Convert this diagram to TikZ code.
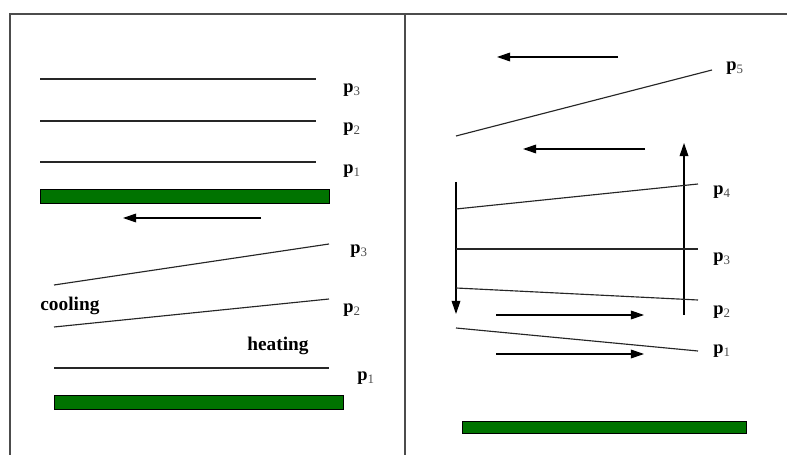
\documentclass[tikz,border=0pt]{standalone}
\usepackage{fontspec}
\setmainfont{Liberation Serif}
\usetikzlibrary{arrows.meta}
\definecolor{filmgreen}{RGB}{0,115,0}
\tikzset{
  layer/.style={draw=black!85,line width=0.65pt},
  film/.style={draw=black,fill=filmgreen,line width=0.5pt},
  flow/.style={-{Triangle[length=7.5pt,width=5pt]},line width=0.65pt},
  plabel/.style={anchor=base west,inner sep=0pt,font=\fontsize{10.5}{12}\selectfont\bfseries},
  note/.style={anchor=base west,inner sep=0pt,font=\fontsize{11}{13}\selectfont\bfseries}
}
\newcommand{\psub}[1]{p\textsubscript{\mdseries\color{black!70}#1}}
\begin{document}
\begin{tikzpicture}[x=0.02cm,y=-0.02cm]
   \useasboundingbox (0,0) rectangle (787,455);
   % frame
   \draw[line width=0.6pt,black!70] (10,455) -- (10,14) -- (787,14);
   \draw[line width=0.6pt,black!70] (405,14) -- (405,455);
   % left panel, before
   \draw[layer] (40,79) -- (316,79);
   \draw[layer] (40,121) -- (316,121);
   \draw[layer] (40,162) -- (316,162);
   \node[plabel] (lathree) at (343,93) {\psub{3}};
   \node[plabel] (latwo) at (343,132) {\psub{2}};
   \node[plabel] (laone) at (343,174) {\psub{1}};
   \filldraw[film] (40,189) rectangle (329,203);
   \draw[flow] (261,218) -- (123,218);
   % left panel, after
   \draw[layer] (54,285) -- (329,244);
   \draw[layer] (54,327) -- (329,299);
   \draw[layer] (54,368) -- (329,368);
   \node[plabel] (lbthree) at (350,254) {\psub{3}};
   \node[plabel] (lbtwo) at (343,313) {\psub{2}};
   \node[plabel] (lbone) at (357,381) {\psub{1}};
   \node[note] (cooling) at (40,311) {cooling};
   \node[note] (heating) at (247,351) {heating};
   \filldraw[film] (54,395) rectangle (343,409);
   % right panel
   \draw[flow] (618,57) -- (497,57);
   \draw[layer] (456,136) -- (712,70);
   \node[plabel] (rfive) at (726,71) {\psub{5}};
   \draw[flow] (645,149) -- (523,149);
   \draw[flow] (684,315) -- (684,143);
   \draw[flow] (456,182) -- (456,314);
   \draw[layer] (456,209) -- (698,184);
   \draw[layer] (456,249) -- (698,249);
   \draw[layer] (456,288) -- (698,300);
   \draw[layer] (456,328) -- (698,351);
   \node[plabel] (rfour) at (713,195) {\psub{4}};
   \node[plabel] (rthree) at (713,262) {\psub{3}};
   \node[plabel] (rtwo) at (713,315) {\psub{2}};
   \node[plabel] (rone) at (713,354) {\psub{1}};
   \draw[flow] (496,315) -- (644,315);
   \draw[flow] (496,354) -- (644,354);
   \filldraw[film] (462,421) rectangle (746,433);
\end{tikzpicture}
\end{document}
